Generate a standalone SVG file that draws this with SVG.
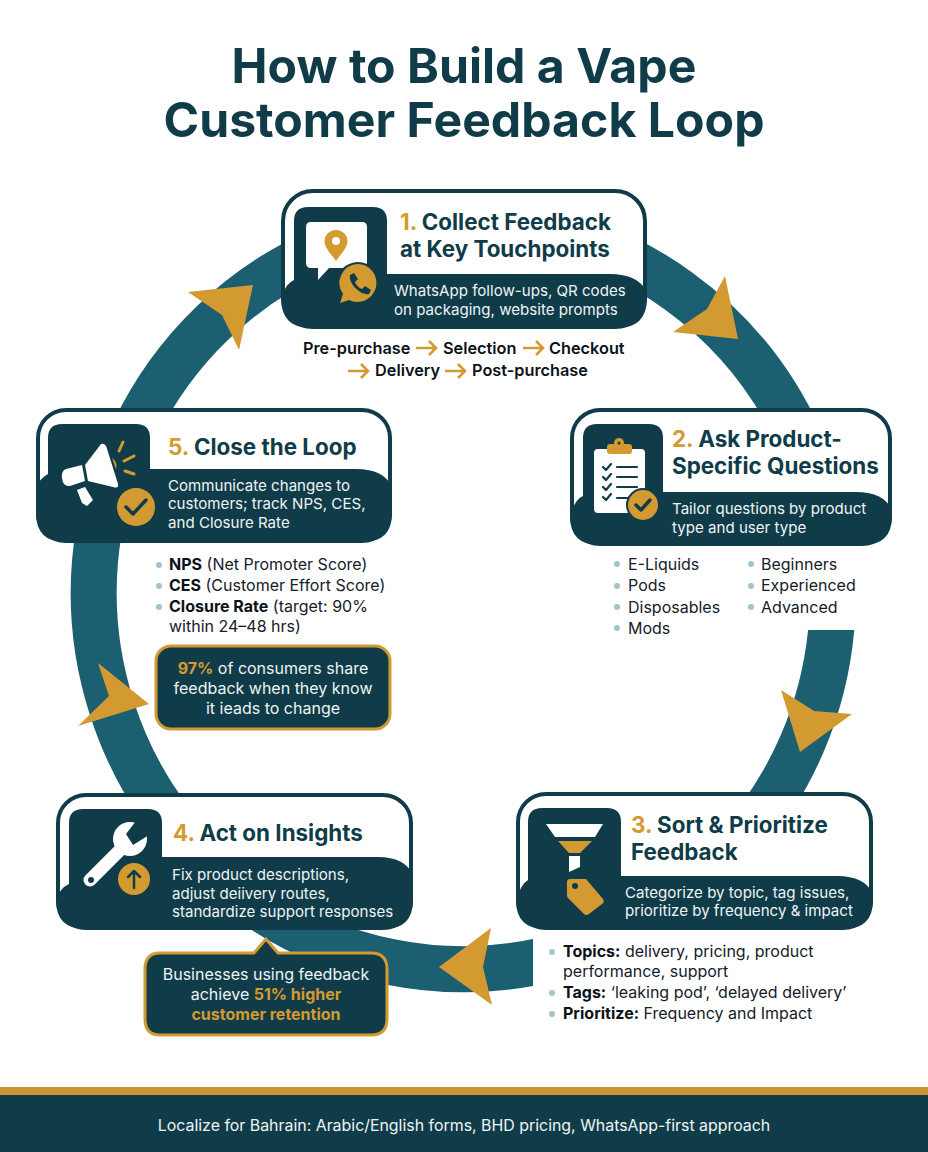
<svg xmlns="http://www.w3.org/2000/svg" xmlns:xlink="http://www.w3.org/1999/xlink" width="928" height="1152" viewBox="0 0 928 1152">
<style>
text{font-family:Inter,"Liberation Sans",sans-serif}
.title{font-size:48.2px;font-weight:700;fill:#103c49;text-anchor:middle}
.h{font-size:22.4px;font-weight:700;fill:#103c49}
.g{fill:#d49a32}
.b{font-size:15.1px;fill:#eef4f5}
.l{font-size:16px;fill:#14202a}
.lb{font-weight:700;fill:#0b1218}
.f{font-size:16.3px;font-weight:600;fill:#0b1218}
.c{font-size:16px;fill:#eef4f5;text-anchor:middle}
.cg{fill:#d49a32;font-weight:700}
.frame{fill:#fff;stroke:#103c49;stroke-width:4}
.dark{fill:#103c49}
.white{fill:#fff}
.gold{fill:#d49a32}
.ck{fill:none;stroke:#103c49;stroke-width:3.5;stroke-linecap:round;stroke-linejoin:round}
.bul{fill:#a4c2cd}
.ring{fill:none;stroke:#1c5f71;stroke-width:46}
.head{fill:#d49a32}
.call{fill:#103c49;stroke:#d49a32;stroke-width:3}
.ray{fill:none;stroke:#d49a32;stroke-width:3;stroke-linecap:round}
</style>
<defs>
<g id="flowArrow"><path d="M0,0H20M13,-7L20,0L13,7" fill="none" stroke="#d49a32" stroke-width="2.6"/></g>
<clipPath id="clipR"><rect x="700" y="630" width="228" height="300"/></clipPath>
<clipPath id="clipB"><rect x="200" y="860" width="333" height="180"/></clipPath>
</defs>
<rect width="928" height="1152" fill="#fff"/>
<text class="title" x="464" y="83">How to Build a Vape</text>
<text class="title" x="464" y="137">Customer Feedback Loop</text>
<g id="connectors">
<path class="ring" d="M500,223A370,374 0 0 1 800,440"/>
<path class="ring" clip-path="url(#clipR)" d="M832,620A370,374 0 0 1 733,850"/>
<path class="ring" clip-path="url(#clipB)" d="M545,960A370,374 0 0 1 250,901"/>
<path class="ring" d="M205,860A370,374 0 0 1 99,530"/>
<path class="ring" d="M135,430A370,374 0 0 1 322,250"/>
<polygon class="head" points="725,276 738,339 673,332 707,309"/>
<polygon class="head" points="781,690 814,711 852,714 800,752"/>
<polygon class="head" points="439,967 491,928 483,967 492,1005"/>
<polygon class="head" points="98,663 149,704 78,726 109,696"/>
<polygon class="head" points="188,292 253,285 239,350 222,315"/>
</g>
<g id="node1">
<rect class="frame" x="283" y="191" width="362" height="136" rx="30"/>
<path class="dark" d="M281,298Q286,283 294,280V221Q294,207 308,207H373Q387,207 387,221V274H610Q638,274 647,292V298Q647,328 617,328H311Q281,328 281,298Z"/>
<path class="white" d="M311,222H362Q367,222 367,227V263Q367,268 362,268H329L318,280V268H311Q306,268 306,263V227Q306,222 311,222Z"/>
<path class="gold" d="M336,230A11.500,11.500 0 0 1 347.500,241.500C347.500,248 340,255 336,261C332,255 324.500,248 324.500,241.500A11.500,11.500 0 0 1 336,230Z"/>
<circle class="white" cx="336" cy="241" r="4"/>
<circle class="dark" cx="358" cy="284" r="22"/>
<path class="gold" d="M358,264A19,19 0 1 1 349,300L340,303L343,294A19,19 0 0 1 358,264Z"/>
<path class="dark" d="M350,275L354,273L358,279L355,282C356,285 359,288 362,289L365,286L371,290L369,294C362,296 348,284 350,275Z"/>
<text class="h" x="400" y="230"><tspan class="g">1.</tspan> Collect Feedback</text>
<text class="h" x="400" y="257">at Key Touchpoints</text>
<text class="b" x="394" y="296">WhatsApp follow-ups, QR codes</text>
<text class="b" x="394" y="315">on packaging, website prompts</text>
<text class="f" x="303" y="354">Pre-purchase</text>
<use xlink:href="#flowArrow" href="#flowArrow" x="416" y="348"/>
<text class="f" x="443" y="354">Selection</text>
<use xlink:href="#flowArrow" href="#flowArrow" x="523" y="348"/>
<text class="f" x="549" y="354">Checkout</text>
<use xlink:href="#flowArrow" href="#flowArrow" x="348" y="371"/>
<text class="f" x="375" y="376">Delivery</text>
<use xlink:href="#flowArrow" href="#flowArrow" x="445" y="371"/>
<text class="f" x="472" y="376">Post-purchase</text>
</g>
<g id="node2">
<rect class="frame" x="572" y="410" width="318" height="134" rx="28"/>
<path class="dark" d="M570,516Q575,499 583,496V438Q583,424 597,424H649Q663,424 663,438V492H856Q884,492 892,510V516Q892,545 863,545H599Q570,545 570,516Z"/>
<rect class="white" x="594" y="449" width="51" height="64" rx="4"/>
<rect class="gold" x="607" y="444" width="25" height="10" rx="3"/>
<circle class="gold" cx="619" cy="443" r="5"/>
<circle class="dark" cx="619" cy="443" r="1.500"/>
<path class="ck" style="stroke-width:2.200" d="M603,467L606,470L611,464M603,477L606,480L611,474M603,487L606,490L611,484M603,497L606,500L611,494M617,467H637M617,477H637M617,487H637M617,498H630"/>
<circle class="gold" cx="643" cy="505" r="16" stroke="#103c49" stroke-width="2"/>
<path class="ck" d="M636,505L641,510L650,500"/>
<text class="h" x="672" y="447"><tspan class="g">2.</tspan> Ask Product-</text>
<text class="h" x="672" y="474">Specific Questions</text>
<text class="b" x="672" y="514">Tailor questions by product</text>
<text class="b" x="672" y="533">type and user type</text>
<circle class="bul" cx="617" cy="564" r="3"/><text class="l" x="628" y="570">E-Liquids</text>
<circle class="bul" cx="617" cy="586" r="3"/><text class="l" x="628" y="591">Pods</text>
<circle class="bul" cx="617" cy="607" r="3"/><text class="l" x="628" y="613">Disposables</text>
<circle class="bul" cx="617" cy="628" r="3"/><text class="l" x="628" y="634">Mods</text>
<circle class="bul" cx="751" cy="564" r="3"/><text class="l" x="761" y="570">Beginners</text>
<circle class="bul" cx="751" cy="586" r="3"/><text class="l" x="761" y="591">Experienced</text>
<circle class="bul" cx="751" cy="607" r="3"/><text class="l" x="761" y="613">Advanced</text>
</g>
<g id="node3">
<rect class="frame" x="518" y="794" width="353" height="134" rx="28"/>
<path class="dark" d="M516,900Q521,884 528,880V822Q528,808 542,808H607Q621,808 621,822V876H837Q865,876 873,894V900Q873,929 844,929H545Q516,929 516,900Z"/>
<polygon class="white" points="546,824 603,824 595,837 555,837"/>
<polygon class="gold" points="558,841 592,841 580,853 569,853"/>
<polygon class="white" points="569,856 580,856 580,867 569,872"/>
<path class="gold" d="M570,879H586L603,899Q605,902 602,904L589,914Q586,916 584,914L568,898Q567,897 567,894V882Q567,879 570,879Z"/>
<circle class="dark" cx="575" cy="886" r="3"/>
<text class="h" x="631" y="833"><tspan class="g">3.</tspan> Sort &amp; Prioritize</text>
<text class="h" x="631" y="860">Feedback</text>
<text class="b" x="625" y="898">Categorize by topic, tag issues,</text>
<text class="b" x="625" y="916">prioritize by frequency &amp; impact</text>
<circle class="bul" cx="552" cy="952" r="3"/><text class="l" x="563" y="957"><tspan class="lb">Topics:</tspan> delivery, pricing, product</text>
<text class="l" x="563" y="977">performance, support</text>
<circle class="bul" cx="552" cy="993" r="3"/><text class="l" x="563" y="998"><tspan class="lb">Tags:</tspan> ‘leaking pod’, ‘delayed delivery’</text>
<circle class="bul" cx="552" cy="1014" r="3"/><text class="l" x="563" y="1019"><tspan class="lb">Prioritize:</tspan> Frequency and Impact</text>
</g>
<g id="node4">
<rect class="frame" x="58" y="795" width="353" height="133" rx="28"/>
<path class="dark" d="M56,900Q60,888 69,884V823Q69,809 83,809H148Q162,809 162,823V857H378Q405,857 413,875V900Q413,929 384,929H85Q56,929 56,900Z"/>
<path d="M90,880L124,846" fill="none" stroke="#fff" stroke-width="13" stroke-linecap="round"/>
<circle class="white" cx="130" cy="839" r="17"/>
<polygon class="dark" points="136,821 126,834 133,845 149,835 152,820"/>
<circle class="dark" cx="91" cy="880" r="3"/>
<circle class="gold" cx="134" cy="879" r="16"/>
<path class="ck" style="stroke-width:2.500" d="M134,888V871M128,877L134,871L140,877"/>
<text class="h" x="173" y="841"><tspan class="g">4.</tspan> Act on Insights</text>
<text class="b" x="172" y="880">Fix product descriptions,</text>
<text class="b" x="172" y="899">adjust deiivery routes,</text>
<text class="b" x="172" y="917">standardize support responses</text>
<path class="call" d="M160,953H254L266,939L278,953H371Q387,953 387,969V1019Q387,1035 371,1035H160Q145,1035 145,1019V969Q145,953 160,953Z"/>
<text class="c" x="266" y="980">Businesses using feedback</text>
<text class="c" x="266" y="1000">achieve <tspan class="cg">51% higher</tspan></text>
<text class="c" x="266" y="1020"><tspan class="cg">customer retention</tspan></text>
</g>
<g id="node5">
<rect class="frame" x="38" y="410" width="352" height="131" rx="28"/>
<path class="dark" d="M36,488Q40,478 48,474V438Q48,424 62,424H136Q150,424 150,438V469H356Q384,469 392,487V513Q392,542 363,542H65Q36,542 36,513Z"/>
<path class="white" d="M101,444Q106,442 108,452L118,484Q119,489 113,487L88,481L85,465Z"/>
<path class="white" d="M66,469L82,465L85,481L70,486Q63,487 62,478Q61,471 66,469Z"/>
<polygon class="white" points="77,490 85,487 93,500 87,506 82,503"/>
<path class="gold" d="M112,458Q118,462 116,469Z"/>
<path class="ray" d="M119,451L123,442M124,461L134,456M125,471L134,474"/>
<circle class="gold" cx="136" cy="507" r="19"/>
<path class="ck" d="M126,507L133,514L146,500"/>
<text class="h" x="168" y="455"><tspan class="g">5.</tspan> Close the Loop</text>
<text class="b" x="168" y="491">Communicate changes to</text>
<text class="b" x="168" y="509">customers; track NPS, CES,</text>
<text class="b" x="168" y="528">and Closure Rate</text>
<circle class="bul" cx="159" cy="565" r="3"/><text class="l" x="169" y="570"><tspan class="lb">NPS</tspan> (Net Promoter Score)</text>
<circle class="bul" cx="159" cy="586" r="3"/><text class="l" x="169" y="591"><tspan class="lb">CES</tspan> (Customer Effort Score)</text>
<circle class="bul" cx="159" cy="607" r="3"/><text class="l" x="169" y="612"><tspan class="lb">Closure Rate</tspan> (target: 90%</text>
<text class="l" x="169" y="632">within 24–48 hrs)</text>
<rect class="call" x="156" y="646" width="234" height="83" rx="15"/>
<text class="c" x="273" y="674"><tspan class="cg">97%</tspan> of consumers share</text>
<text class="c" x="273" y="694">feedback when they know</text>
<text class="c" x="273" y="714">it ieads to change</text>
</g>
<g id="footer">
<rect x="0" y="1087" width="928" height="8" fill="#cd9433"/>
<rect x="0" y="1095" width="928" height="57" fill="#103c49"/>
<text x="464" y="1131" font-size="15.9" fill="#eef4f5" text-anchor="middle">Localize for Bahrain: Arabic/English forms, BHD pricing, WhatsApp-first approach</text>
</g>
</svg>
